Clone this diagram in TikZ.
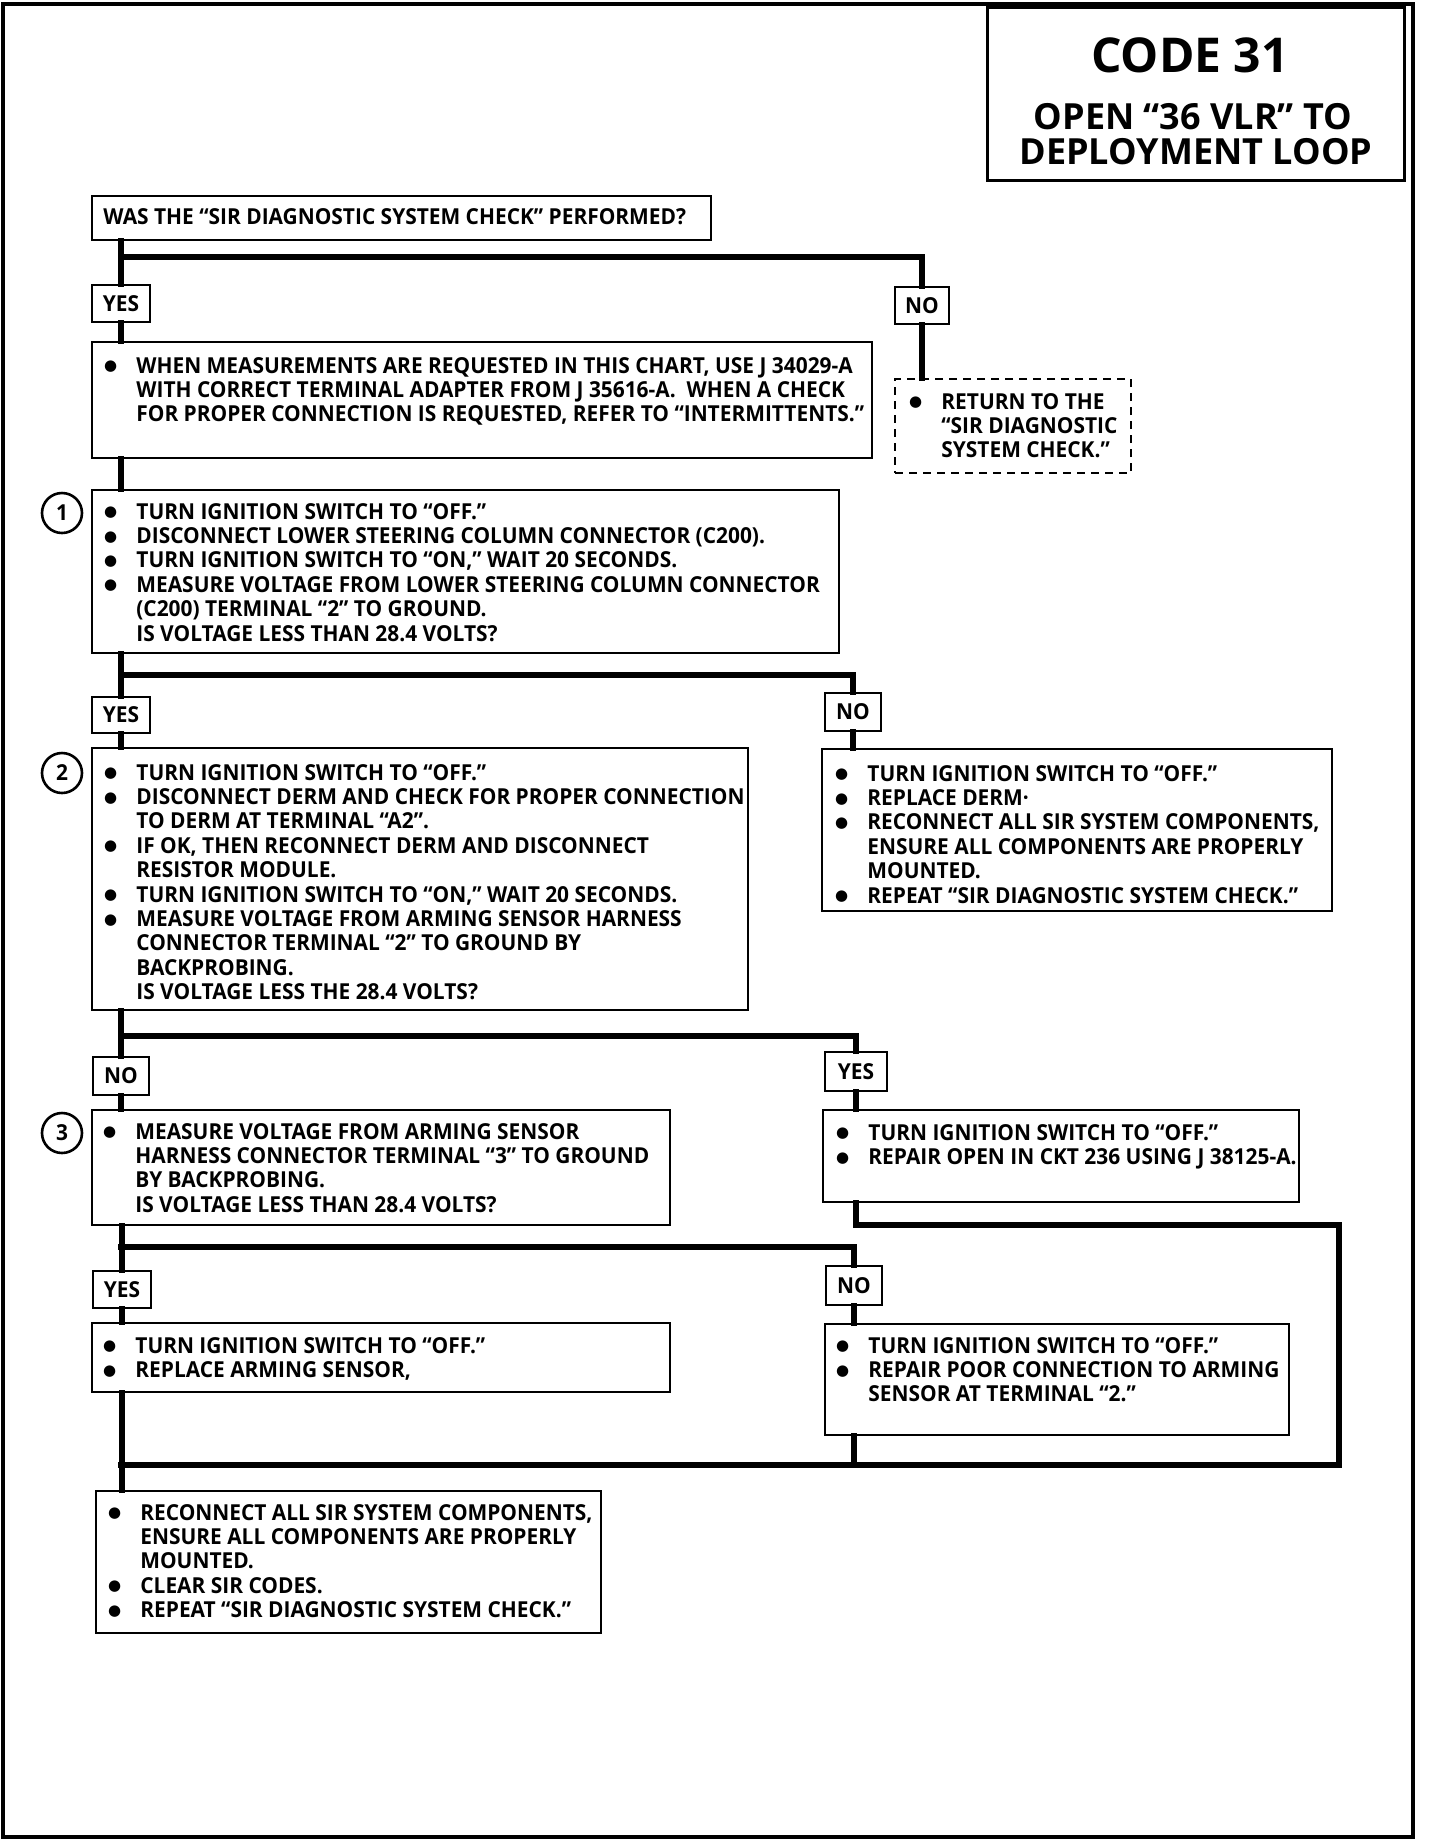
\documentclass[tikz,border=0pt]{standalone}
\usepackage{fontspec}
\usetikzlibrary{fit,calc}
\newfontfamily\bodyfont{Open Sans}[FakeStretch=0.95]
\newfontfamily\headfont{Open Sans}
\newfontfamily\symfont{DejaVu Sans}
\newcommand\bul{\makebox[16.5pt][l]{\hspace{0.3pt}\raisebox{1.2pt}{\symfont\fontsize{7.5}{7.5}\selectfont ●}}}
\newcommand\ind{\hspace*{16.5pt}}
\tikzset{
  conn/.style={line width=3.3pt, line cap=rect},
  bx/.style={draw, line width=1.4pt, fill=white, inner sep=0pt},
  dbx/.style={bx, dash pattern=on 4pt off 3pt, line width=1.3pt},
  lblfont/.style={inner sep=0pt, font=\bodyfont\bfseries\fontsize{11}{12.2}\selectfont},
  lbl/.style={bx},
  txt/.style={inner sep=0pt, anchor=base west, font=\bodyfont\bfseries\fontsize{11}{12.2}\selectfont},
  num/.style={circle, draw, line width=1.3pt, minimum size=20pt, inner sep=0pt, fill=white, font=\bodyfont\bfseries\fontsize{11}{12}\selectfont},
  ttl/.style={inner sep=0pt, anchor=base, font=\headfont\bfseries},
  frame/.style={draw, line width=2pt},
}
\begin{document}
\begin{tikzpicture}[x=0.5pt,y=-0.5pt]
\useasboundingbox (0,0) rectangle (1440,1842);
\draw[frame] (3,4) rectangle (1413,1837);

% junction coordinates
\coordinate (j1) at (121,257);
\coordinate (j2) at (121,675);
\coordinate (j3) at (121,1036);
\coordinate (j4) at (121,1247);
\coordinate (r1) at (1339,1225);
\coordinate (r2) at (1339,1465);
\coordinate (m)  at (121,1465);

% title
\node[bx, line width=1.5pt, fit={(987,7) (1404,180)}] (title) {};
\node[ttl, font=\headfont\bfseries\fontsize{24}{24}\selectfont] (t1) at (1190,72) {CODE 31};
\node[ttl, font=\headfont\bfseries\fontsize{18}{18}\selectfont] (t2) at (1193,129) {OPEN “36 VLR” TO};
\node[ttl, font=\headfont\bfseries\fontsize{18}{18}\selectfont] (t3) at (1196,164) {DEPLOYMENT LOOP};

% box geometry (nodes)
\node[bx, fit={(92,196) (711,240)}] (q0) {};
\node[lbl, fit={(92,285) (150,322)}, label={[lblfont]center:YES}] (yes1) {};
\node[lbl, fit={(895,287) (949,324)}, label={[lblfont]center:NO}] (no1) {};
\node[bx, fit={(92,342) (872,458)}] (A) {};
\node[dbx, fit={(895,379) (1131,473)}] (ret) {};
\node[bx, fit={(92,490) (839,653)}] (B1) {};
\node[lbl, fit={(92,697) (150,733)}, label={[lblfont]center:YES}] (yes2) {};
\node[lbl, fit={(825,693) (881,731)}, label={[lblfont]center:NO}] (no2) {};
\node[bx, fit={(92,748) (748,1010)}] (B2) {};
\node[bx, fit={(822,749) (1332,911)}] (N2) {};
\node[lbl, fit={(93,1057) (149,1095)}, label={[lblfont]center:NO}] (no3) {};
\node[lbl, fit={(825,1052) (887,1091)}, label={[lblfont]center:YES}] (yes3) {};
\node[bx, fit={(92,1110) (670,1225)}] (B3) {};
\node[bx, fit={(823,1110) (1299,1202)}] (Y3) {};
\node[lbl, fit={(93,1271) (151,1308)}, label={[lblfont]center:YES}] (yes4) {};
\node[lbl, fit={(826,1266) (882,1305)}, label={[lblfont]center:NO}] (no4) {};
\node[bx, fit={(92,1323) (670,1392)}] (Y4) {};
\node[bx, fit={(825,1324) (1289,1435)}] (N4) {};
\node[bx, fit={(96,1491) (601,1633)}] (F) {};

% connectors
\begin{scope}[on background layer/.style={}]
\draw[conn] (q0.south -| yes1) -- (yes1.north);
\draw[conn] (j1) -| (no1.north);
\draw[conn] (yes1.south) -- (A.north -| yes1);
\draw[conn] (no1.south) -- (ret.north -| no1);
\draw[conn] (A.south -| yes1) -- (B1.north -| yes1);
\draw[conn] (B1.south -| yes2) -- (yes2.north);
\draw[conn] (j2) -| (no2.north);
\draw[conn] (yes2.south) -- (B2.north -| yes2);
\draw[conn] (no2.south) -- (N2.north -| no2);
\draw[conn] (B2.south -| no3) -- (no3.north);
\draw[conn] (j3) -| (yes3.north);
\draw[conn] (no3.south) -- (B3.north -| no3);
\draw[conn] (yes3.south) -- (Y3.north -| yes3);
\draw[conn] (Y3.south -| yes3) |- (r1) -- (r2) -- (m);
\draw[conn] (B3.south -| yes4) -- (yes4.north);
\draw[conn] (j4) -| (no4.north);
\draw[conn] (yes4.south) -- (Y4.north -| yes4);
\draw[conn] (no4.south) -- (N4.north -| no4);
\draw[conn] (Y4.south -| yes4) -- (F.north -| yes4);
\draw[conn] (N4.south -| no4) -- (m -| no4);
\end{scope}

% texts
\node[txt] (q0t) at (103,224) {WAS THE “SIR DIAGNOSTIC SYSTEM CHECK” PERFORMED?};

\node[txt] (At) at (103,373) {\parbox[t]{600pt}{\bul WHEN MEASUREMENTS ARE REQUESTED IN THIS CHART, USE J 34029-A\\
\ind WITH CORRECT TERMINAL ADAPTER FROM J 35616-A.\ \ WHEN A CHECK\\
\ind FOR PROPER CONNECTION IS REQUESTED, REFER TO “INTERMITTENTS.”}};

\node[txt] (rett) at (908,409) {\parbox[t]{300pt}{\bul RETURN TO THE\\
\ind “SIR DIAGNOSTIC\\
\ind SYSTEM CHECK.”}};

\node[num] (c1) at (62,513) {1};
\node[txt] (B1t) at (103,519) {\parbox[t]{600pt}{\bul TURN IGNITION SWITCH TO “OFF.”\\
\bul DISCONNECT LOWER STEERING COLUMN CONNECTOR (C200).\\
\bul TURN IGNITION SWITCH TO “ON,” WAIT 20 SECONDS.\\
\bul MEASURE VOLTAGE FROM LOWER STEERING COLUMN CONNECTOR\\
\ind (C200) TERMINAL “2” TO GROUND.\\
\ind IS VOLTAGE LESS THAN 28.4 VOLTS?}};

\node[num] (c2) at (62,773) {2};
\node[txt] (B2t) at (103,780) {\parbox[t]{600pt}{\bul TURN IGNITION SWITCH TO “OFF.”\\
\bul DISCONNECT DERM AND CHECK FOR PROPER CONNECTION\\
\ind TO DERM AT TERMINAL “A2”.\\
\bul IF OK, THEN RECONNECT DERM AND DISCONNECT\\
\ind RESISTOR MODULE.\\
\bul TURN IGNITION SWITCH TO “ON,” WAIT 20 SECONDS.\\
\bul MEASURE VOLTAGE FROM ARMING SENSOR HARNESS\\
\ind CONNECTOR TERMINAL “2” TO GROUND BY\\
\ind BACKPROBING.\\
\ind IS VOLTAGE LESS THE 28.4 VOLTS?}};

\node[txt] (N2t) at (834,781) {\parbox[t]{400pt}{\bul TURN IGNITION SWITCH TO “OFF.”\\
\bul REPLACE DERM·\\
\bul RECONNECT ALL SIR SYSTEM COMPONENTS,\\
\ind ENSURE ALL COMPONENTS ARE PROPERLY\\
\ind MOUNTED.\\
\bul REPEAT “SIR DIAGNOSTIC SYSTEM CHECK.”}};

\node[num] (c3) at (62,1133) {3};
\node[txt] (B3t) at (102,1139) {\parbox[t]{600pt}{\bul MEASURE VOLTAGE FROM ARMING SENSOR\\
\ind HARNESS CONNECTOR TERMINAL “3” TO GROUND\\
\ind BY BACKPROBING.\\
\ind IS VOLTAGE LESS THAN 28.4 VOLTS?}};

\node[txt] (Y3t) at (835,1140) {\parbox[t]{400pt}{\bul TURN IGNITION SWITCH TO “OFF.”\\
\bul REPAIR OPEN IN CKT 236 USING J 38125-A.}};

\node[txt] (Y4t) at (102,1353) {\parbox[t]{600pt}{\bul TURN IGNITION SWITCH TO “OFF.”\\
\bul REPLACE ARMING SENSOR,}};

\node[txt] (N4t) at (835,1353) {\parbox[t]{400pt}{\bul TURN IGNITION SWITCH TO “OFF.”\\
\bul REPAIR POOR CONNECTION TO ARMING\\
\ind SENSOR AT TERMINAL “2.”}};

\node[txt] (Ft) at (107,1520) {\parbox[t]{600pt}{\bul RECONNECT ALL SIR SYSTEM COMPONENTS,\\
\ind ENSURE ALL COMPONENTS ARE PROPERLY\\
\ind MOUNTED.\\
\bul CLEAR SIR CODES.\\
\bul REPEAT “SIR DIAGNOSTIC SYSTEM CHECK.”}};
\end{tikzpicture}
\end{document}
